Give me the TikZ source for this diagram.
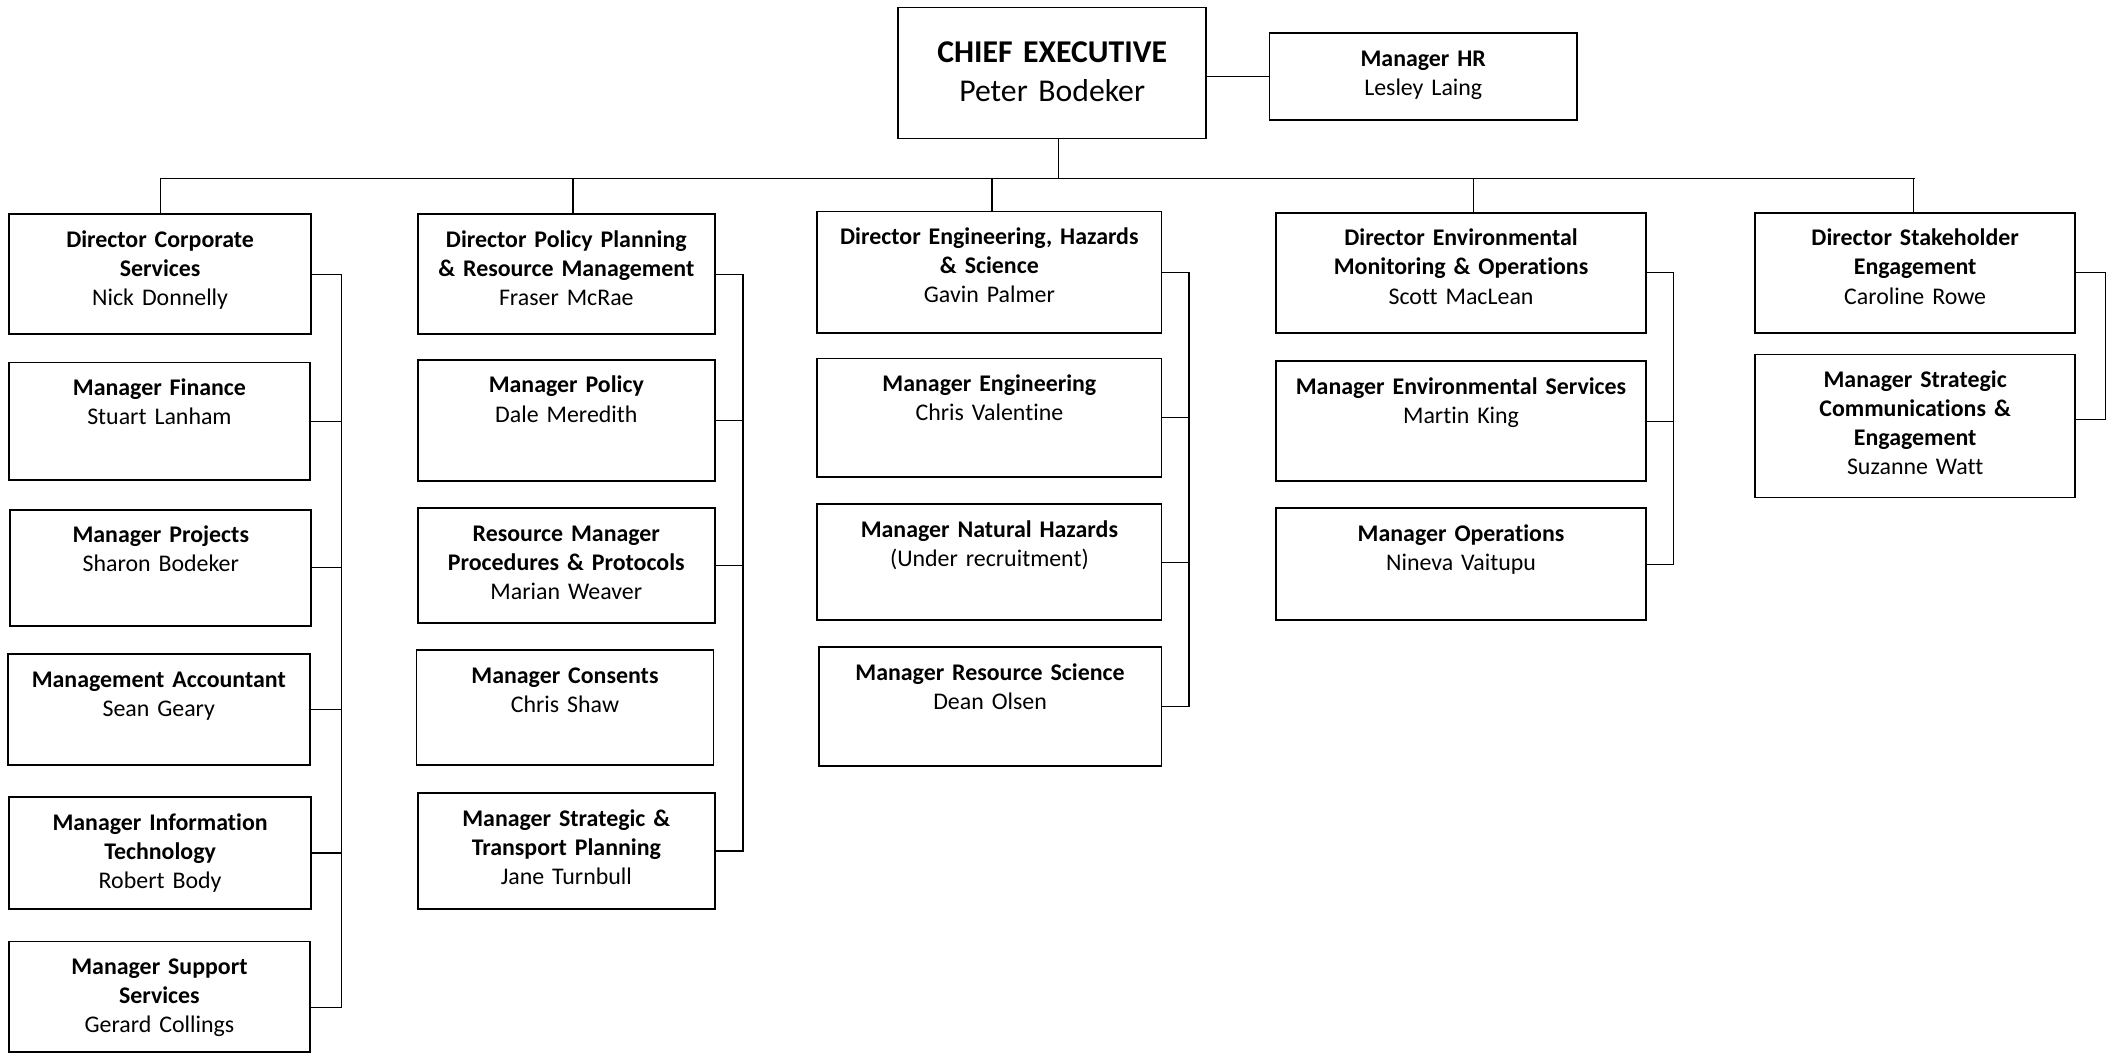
\documentclass[tikz,border=0pt]{standalone}
\usepackage{fontspec}
\setmainfont[Ligatures=NoCommon]{Carlito}
\begin{document}
\begin{tikzpicture}[x=1pt,y=-1pt,
  post/.style={draw, line width=1.3pt, anchor=north west, inner sep=0pt, align=center,
    text height=24.5pt, font=\fontsize{17.7}{21.6}\selectfont},
  link/.style={line width=0.9pt}]
\useasboundingbox (0,0) rectangle (1568,781);

\node[post, text width=228pt, text height=41pt, text depth=56pt, font=\fontsize{23.5}{28.7}\selectfont] (ceo) at (665,5) {\textbf{CHIEF EXECUTIVE}\\Peter Bodeker};
\node[post, text width=228pt, text depth=39.5pt] (hr) at (940,24) {\textbf{Manager HR}\\Lesley Laing};

\node[post, text width=224pt, text depth=64.5pt] (dcs) at (6,158) {\textbf{Director Corporate}\\\textbf{Services}\\Nick Donnelly};
\node[post, text width=220pt, text depth=64.5pt] (dpp) at (309,158) {\textbf{Director Policy Planning}\\\textbf{\& Resource Management}\\Fraser McRae};
\node[post, text width=255pt, text depth=65.5pt] (des) at (605,156) {\textbf{Director Engineering, Hazards}\\\textbf{\& Science}\\Gavin Palmer};
\node[post, text width=274pt, text depth=64.5pt] (dem) at (945,157) {\textbf{Director Environmental}\\\textbf{Monitoring \& Operations}\\Scott MacLean};
\node[post, text width=237pt, text depth=64.5pt] (dse) at (1300,157) {\textbf{Director Stakeholder}\\\textbf{Engagement}\\Caroline Rowe};

\node[post, text width=223pt, text depth=62.5pt] (fin) at (6,268) {\textbf{Manager Finance}\\Stuart Lanham};
\node[post, text width=223pt, text depth=61.5pt] (prj) at (7,377) {\textbf{Manager Projects}\\Sharon Bodeker};
\node[post, text width=224pt, text depth=57.5pt] (acc) at (5,484) {\textbf{Management Accountant}\\Sean Geary};
\node[post, text width=224pt, text depth=58.5pt] (ict) at (6,590) {\textbf{Manager Information}\\\textbf{Technology}\\Robert Body};
\node[post, text width=223pt, text depth=57.5pt] (sup) at (6,697) {\textbf{Manager Support}\\\textbf{Services}\\Gerard Collings};

\node[post, text width=220pt, text depth=65.5pt] (pol) at (309,266) {\textbf{Manager Policy}\\Dale Meredith};
\node[post, text width=220pt, text depth=60.5pt] (rmp) at (309,376) {\textbf{Resource Manager}\\\textbf{Procedures \& Protocols}\\Marian Weaver};
\node[post, text width=220pt, text depth=60.5pt] (con) at (308,481) {\textbf{Manager Consents}\\Chris Shaw};
\node[post, text width=220pt, text depth=61.5pt] (stp) at (309,587) {\textbf{Manager Strategic \&}\\\textbf{Transport Planning}\\Jane Turnbull};

\node[post, text width=255pt, text depth=63.5pt] (eng) at (605,265) {\textbf{Manager Engineering}\\Chris Valentine};
\node[post, text width=255pt, text depth=61.5pt] (nhz) at (605,373) {\textbf{Manager Natural Hazards}\\(Under recruitment)};
\node[post, text width=254pt, text depth=63.5pt] (rsc) at (606,479) {\textbf{Manager Resource Science}\\Dean Olsen};

\node[post, text width=274pt, text depth=64.5pt] (env) at (945,267) {\textbf{Manager Environmental Services}\\Martin King};
\node[post, text width=274pt, text depth=58.5pt] (ops) at (945,376) {\textbf{Manager Operations}\\Nineva Vaitupu};

\node[post, text width=237pt, text depth=81.5pt] (com) at (1300,262) {\textbf{Manager Strategic}\\\textbf{Communications \&}\\\textbf{Engagement}\\Suzanne Watt};

\coordinate (bus) at (0,132);
\coordinate (sa) at (253,0);
\coordinate (sb) at (550.5,0);
\coordinate (sc) at (881,0);
\coordinate (sd) at (1240,0);
\coordinate (se) at (1560,0);

\draw[link] (ceo.east |- hr.west) -- (hr.west);
\draw[link] ([xshift=5pt]ceo.south) -- ([xshift=5pt]ceo.south |- bus);
\draw[link] (dcs.north |- bus) -- (dse.north |- bus);
\foreach \d/\s in {dcs/0,dpp/5,des/2,dem/9,dse/-1}
  \draw[link] ([xshift=\s pt]\d.north) -- ([xshift=\s pt]\d.north |- bus);

\draw[link] (dcs.east) -- (dcs.east -| sa) -- ([yshift=-8pt]sup.east -| sa) -- ([yshift=-8pt]sup.east);
\foreach \n in {fin,prj,acc,ict}
  \draw[link] (\n.east) -- (\n.east -| sa);

\draw[link] (dpp.east) -- (dpp.east -| sb) -- (stp.east -| sb) -- (stp.east);
\foreach \n in {pol,rmp}
  \draw[link] (\n.east) -- (\n.east -| sb);

\draw[link] (des.east) -- (des.east -| sc) -- (rsc.east -| sc) -- (rsc.east);
\foreach \n in {eng,nhz}
  \draw[link] (\n.east) -- (\n.east -| sc);

\draw[link] (dem.east) -- (dem.east -| sd) -- (ops.east -| sd) -- (ops.east);
\draw[link] (env.east) -- (env.east -| sd);

\draw[link] (dse.east) -- (dse.east -| se) -- ([yshift=5pt]com.east -| se) -- ([yshift=5pt]com.east);
\end{tikzpicture}
\end{document}
